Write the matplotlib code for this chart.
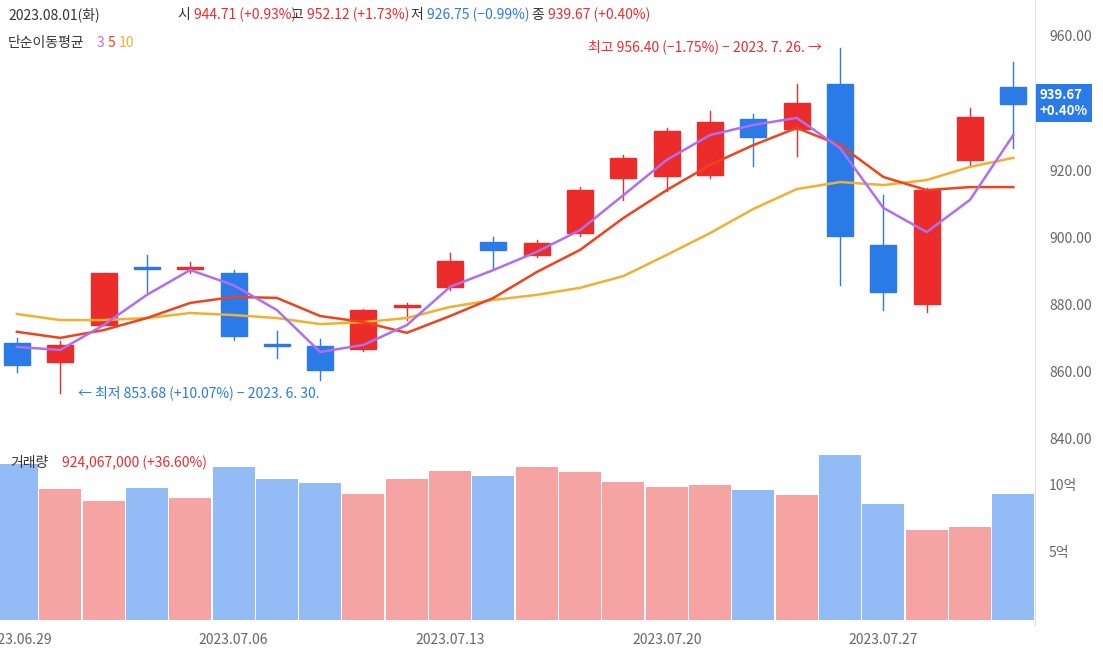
import matplotlib.pyplot as plt
from matplotlib.patches import Rectangle

plt.rcParams['font.family'] = ['Noto Sans CJK JP', 'Noto Sans CJK KR', 'Noto Sans CJK SC', 'DejaVu Sans']

# 일별 시세 (2023.06.29 ~ 2023.08.01)
dates = ['06.29', '06.30', '07.03', '07.04', '07.05', '07.06', '07.07', '07.10',
         '07.11', '07.12', '07.13', '07.14', '07.17', '07.18', '07.19', '07.20',
         '07.21', '07.24', '07.25', '07.26', '07.27', '07.28', '07.31', '08.01']
opens = [868.6, 862.9, 873.9, 891.0, 890.6, 889.4, 868.2, 867.7, 866.8, 879.4, 885.3, 898.7,
         894.8, 901.3, 917.7, 918.3, 918.6, 935.3, 932.3, 945.7, 897.8, 880.2, 923.1, 944.71]
closes = [862.0, 868.0, 889.4, 890.5, 891.0, 870.7, 867.8, 860.5, 878.4, 879.8, 893.0, 896.3,
          898.4, 914.1, 923.7, 931.7, 934.4, 929.9, 940.0, 900.4, 883.8, 914.1, 935.9, 939.67]
highs = [870.0, 869.2, 889.4, 894.8, 892.7, 890.3, 872.2, 869.8, 878.6, 880.5, 895.4, 900.1,
         899.3, 915.0, 924.6, 932.6, 937.7, 936.8, 945.7, 956.4, 912.6, 914.6, 938.6, 952.12]
lows = [860.0, 853.68, 873.9, 883.8, 889.4, 869.5, 864.1, 857.6, 866.2, 875.4, 884.4, 890.9,
        894.3, 900.4, 911.2, 913.8, 917.7, 921.3, 924.3, 885.8, 878.4, 877.8, 921.3, 926.75]
ma3 = [867.4, 866.5, 873.9, 882.9, 890.3, 885.8, 878.4, 865.9, 868.0, 873.9, 885.3, 890.3,
       895.7, 902.2, 912.6, 923.1, 930.5, 933.5, 935.6, 926.6, 908.8, 901.6, 911.2, 930.5]
ma5 = [871.9, 870.1, 872.4, 876.0, 880.5, 882.3, 882.0, 876.6, 874.8, 871.6, 876.6, 882.0,
       889.7, 896.3, 905.8, 914.1, 921.6, 927.5, 932.6, 927.5, 918.0, 914.1, 915.0, 915.0]
ma10 = [877.2, 875.4, 875.4, 876.0, 877.5, 876.9, 876.0, 874.2, 874.8, 876.0, 879.3, 881.4,
        882.9, 885.0, 888.5, 894.8, 901.3, 908.5, 914.4, 916.5, 915.6, 917.1, 921.0, 923.7]
volumes = [11.5, 9.6, 8.75, 9.7, 9.0, 11.25, 10.4, 10.1, 9.3, 10.4, 10.95, 10.6,
           11.25, 10.9, 10.15, 9.8, 9.9, 9.55, 9.2, 12.1, 8.5, 6.6, 6.85, 9.24]  # 억
price_ticks = [840, 860, 880, 900, 920, 940, 960]
date_ticks = {0: '2023.06.29', 5: '2023.07.06', 10: '2023.07.13', 15: '2023.07.20', 20: '2023.07.27'}

RED, BLUE = '#ec2b2b', '#2a7ae8'
LRED, LBLUE = '#f5a3a3', '#93bbf5'
GRAY = '#666666'
W, H = 1103, 656

fig = plt.figure(figsize=(W / 100, H / 100), dpi=100)
ax = fig.add_axes([0, 1 - 445 / H, 1035 / W, 445 / H])
axv = fig.add_axes([0, 1 - 625 / H, 1035 / W, 180 / H])

x = list(range(len(dates)))
xlim = (-0.39, 23.5)

# 캔들
for i in x:
    up = closes[i] >= opens[i]
    c = RED if up else BLUE
    ax.plot([i, i], [lows[i], highs[i]], color=c, lw=1, zorder=2)
    lo, hi = min(opens[i], closes[i]), max(opens[i], closes[i])
    ax.add_patch(Rectangle((i - 0.3, lo), 0.6, max(hi - lo, 0.6), color=c, zorder=3))

ax.plot(x, ma10, color='#f0b030', lw=1.8, zorder=4)
ax.plot(x, ma5, color='#f0421c', lw=1.8, zorder=4)
ax.plot(x, ma3, color='#b06ef0', lw=1.8, zorder=4)

ax.set_xlim(*xlim)
ax.set_ylim(838.2, 970.7)
ax.yaxis.tick_right()
ax.set_yticks(price_ticks)
ax.set_yticklabels([f'{t:.2f}' for t in price_ticks], color=GRAY, fontsize=10)
ax.tick_params(axis='y', length=0, pad=10)
ax.set_xticks([])
for s in ['top', 'left']:
    ax.spines[s].set_visible(False)
ax.spines['right'].set_color('#e0e0e0')
ax.spines['bottom'].set_color('#e0e0e0')

# 최신가 라벨
fig.text(1040 / W, 1 - 103 / H, '939.67\n+0.40%', color='white', fontsize=9.5,
         va='center', ha='left', fontweight='bold', linespacing=1.2,
         bbox=dict(boxstyle='square,pad=0.3', fc=BLUE, ec='none'))

# 거래량
axv.bar(x, volumes, width=0.97, color=[LRED if closes[i] >= opens[i] else LBLUE for i in x])
axv.set_xlim(*xlim)
axv.set_ylim(-0.37, 12.87)
axv.yaxis.tick_right()
axv.set_yticks([5, 10])
axv.set_yticklabels(['5억', '10억'], color=GRAY, fontsize=10)
axv.tick_params(axis='y', length=0, pad=10)
axv.set_xticks(list(date_ticks.keys()))
axv.set_xticklabels(list(date_ticks.values()), color=GRAY, fontsize=10)
axv.tick_params(axis='x', length=0, pad=6)
for s in ['top', 'left', 'bottom']:
    axv.spines[s].set_visible(False)
axv.spines['right'].set_color('#e0e0e0')


def px(xp, yp, s, c, **kw):
    fig.text(xp / W, 1 - yp / H, s, color=c, va='center', fontsize=10, **kw)


# 상단 정보
px(8, 15, '2023.08.01(화)', '#333333')
px(177, 15, '시', '#333333'); px(194, 15, '944.71 (+0.93%)', RED)
px(290, 15, '고', '#333333'); px(307, 15, '952.12 (+1.73%)', RED)
px(410, 15, '저', '#333333'); px(427, 15, '926.75 (−0.99%)', BLUE)
px(531, 15, '종', '#333333'); px(548, 15, '939.67 (+0.40%)', RED)
px(8, 43, '단순이동평균', '#333333')
px(97, 43, '3', '#b06ef0'); px(108, 43, '5', '#f0421c'); px(119, 43, '10', '#f0b030')
px(822, 47, '최고 956.40 (−1.75%) − 2023. 7. 26. →', RED, ha='right')
px(78, 393, '← 최저 853.68 (+10.07%) − 2023. 6. 30.', BLUE)
px(10, 463, '거래량', '#333333'); px(62, 463, '924,067,000 (+36.60%)', RED)

fig.savefig('out.png', dpi=100)
